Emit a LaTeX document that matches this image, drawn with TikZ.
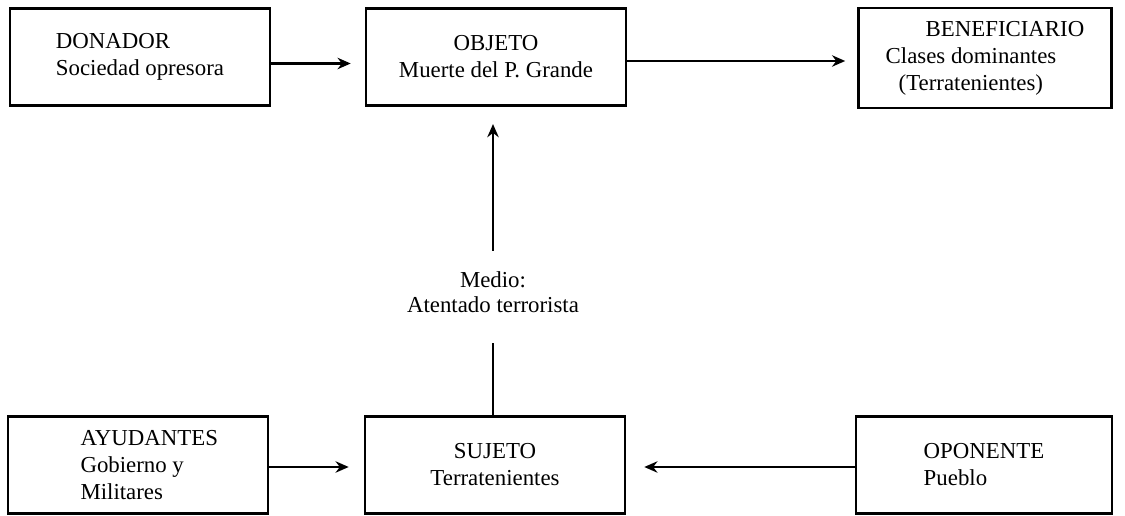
\documentclass[tikz,border=0pt]{standalone}
\usepackage{fontspec}
\setmainfont{Liberation Serif}
\usetikzlibrary{arrows.meta, positioning}

\begin{document}
\begin{tikzpicture}[x=0.02cm, y=-0.02cm,
    >={Stealth[length=7.5pt, width=6.5pt]},
    actor/.style={draw, line width=1.5pt, minimum width=5.2cm, minimum height=1.95cm,
                  inner sep=0pt, font=\fontsize{13}{15.4}\selectfont},
    arrow/.style={->, line width=1.4pt},
    link/.style={line width=1.4pt}]

    \useasboundingbox (0,0) rectangle (1125,516);

    % Actantes
    \node[actor, align=left] (donador) at (140,57) {DONADOR\\Sociedad opresora};
    \node[actor, align=center] (objeto) at (496,57) {OBJETO\\Muerte del P. Grande};
    \node[actor, align=left, minimum width=5.06cm, minimum height=2cm] (beneficiario) at (985,58)
        {\hspace*{0.8cm}BENEFICIARIO\\Clases dominantes\\\hspace*{0.26cm}(Terratenientes)};
    \node[actor, align=left] (ayudantes) at (138,465)
        {\hspace*{0.45cm}AYUDANTES\\\hspace*{0.45cm}Gobierno y\\\hspace*{0.45cm}Militares};
    \node[actor, align=center] (sujeto) at (495,465) {SUJETO\\Terratenientes};
    \node[actor, align=left, minimum width=5.12cm] (oponente) at (984,465) {OPONENTE\\Pueblo};
    \node[align=center, inner sep=0pt, font=\fontsize{13}{14.4}\selectfont] (medio) at (493,292)
        {Medio:\\Atentado terrorista};

    % Relaciones
    \draw[arrow, shorten >=0.28cm] ([yshift=-0.13cm]donador.east) -- ([yshift=-0.13cm]objeto.west);
    \draw[arrow, shorten >=0.24cm] ([yshift=-0.08cm]objeto.east) -- ([yshift=-0.08cm]objeto.east -| beneficiario.west);
    \draw[arrow, shorten <=0.4cm, shorten >=0.34cm] (medio.north) -- (medio.north |- objeto.south);
    \draw[link, shorten <=0.6cm] (medio.south) -- (medio.south |- sujeto.north);
    \draw[arrow, shorten >=0.3cm] ([yshift=-0.04cm]ayudantes.east) -- ([yshift=-0.04cm]sujeto.west);
    \draw[arrow, shorten >=0.36cm] ([yshift=-0.04cm]oponente.west) -- ([yshift=-0.04cm]sujeto.east);

\end{tikzpicture}
\end{document}
